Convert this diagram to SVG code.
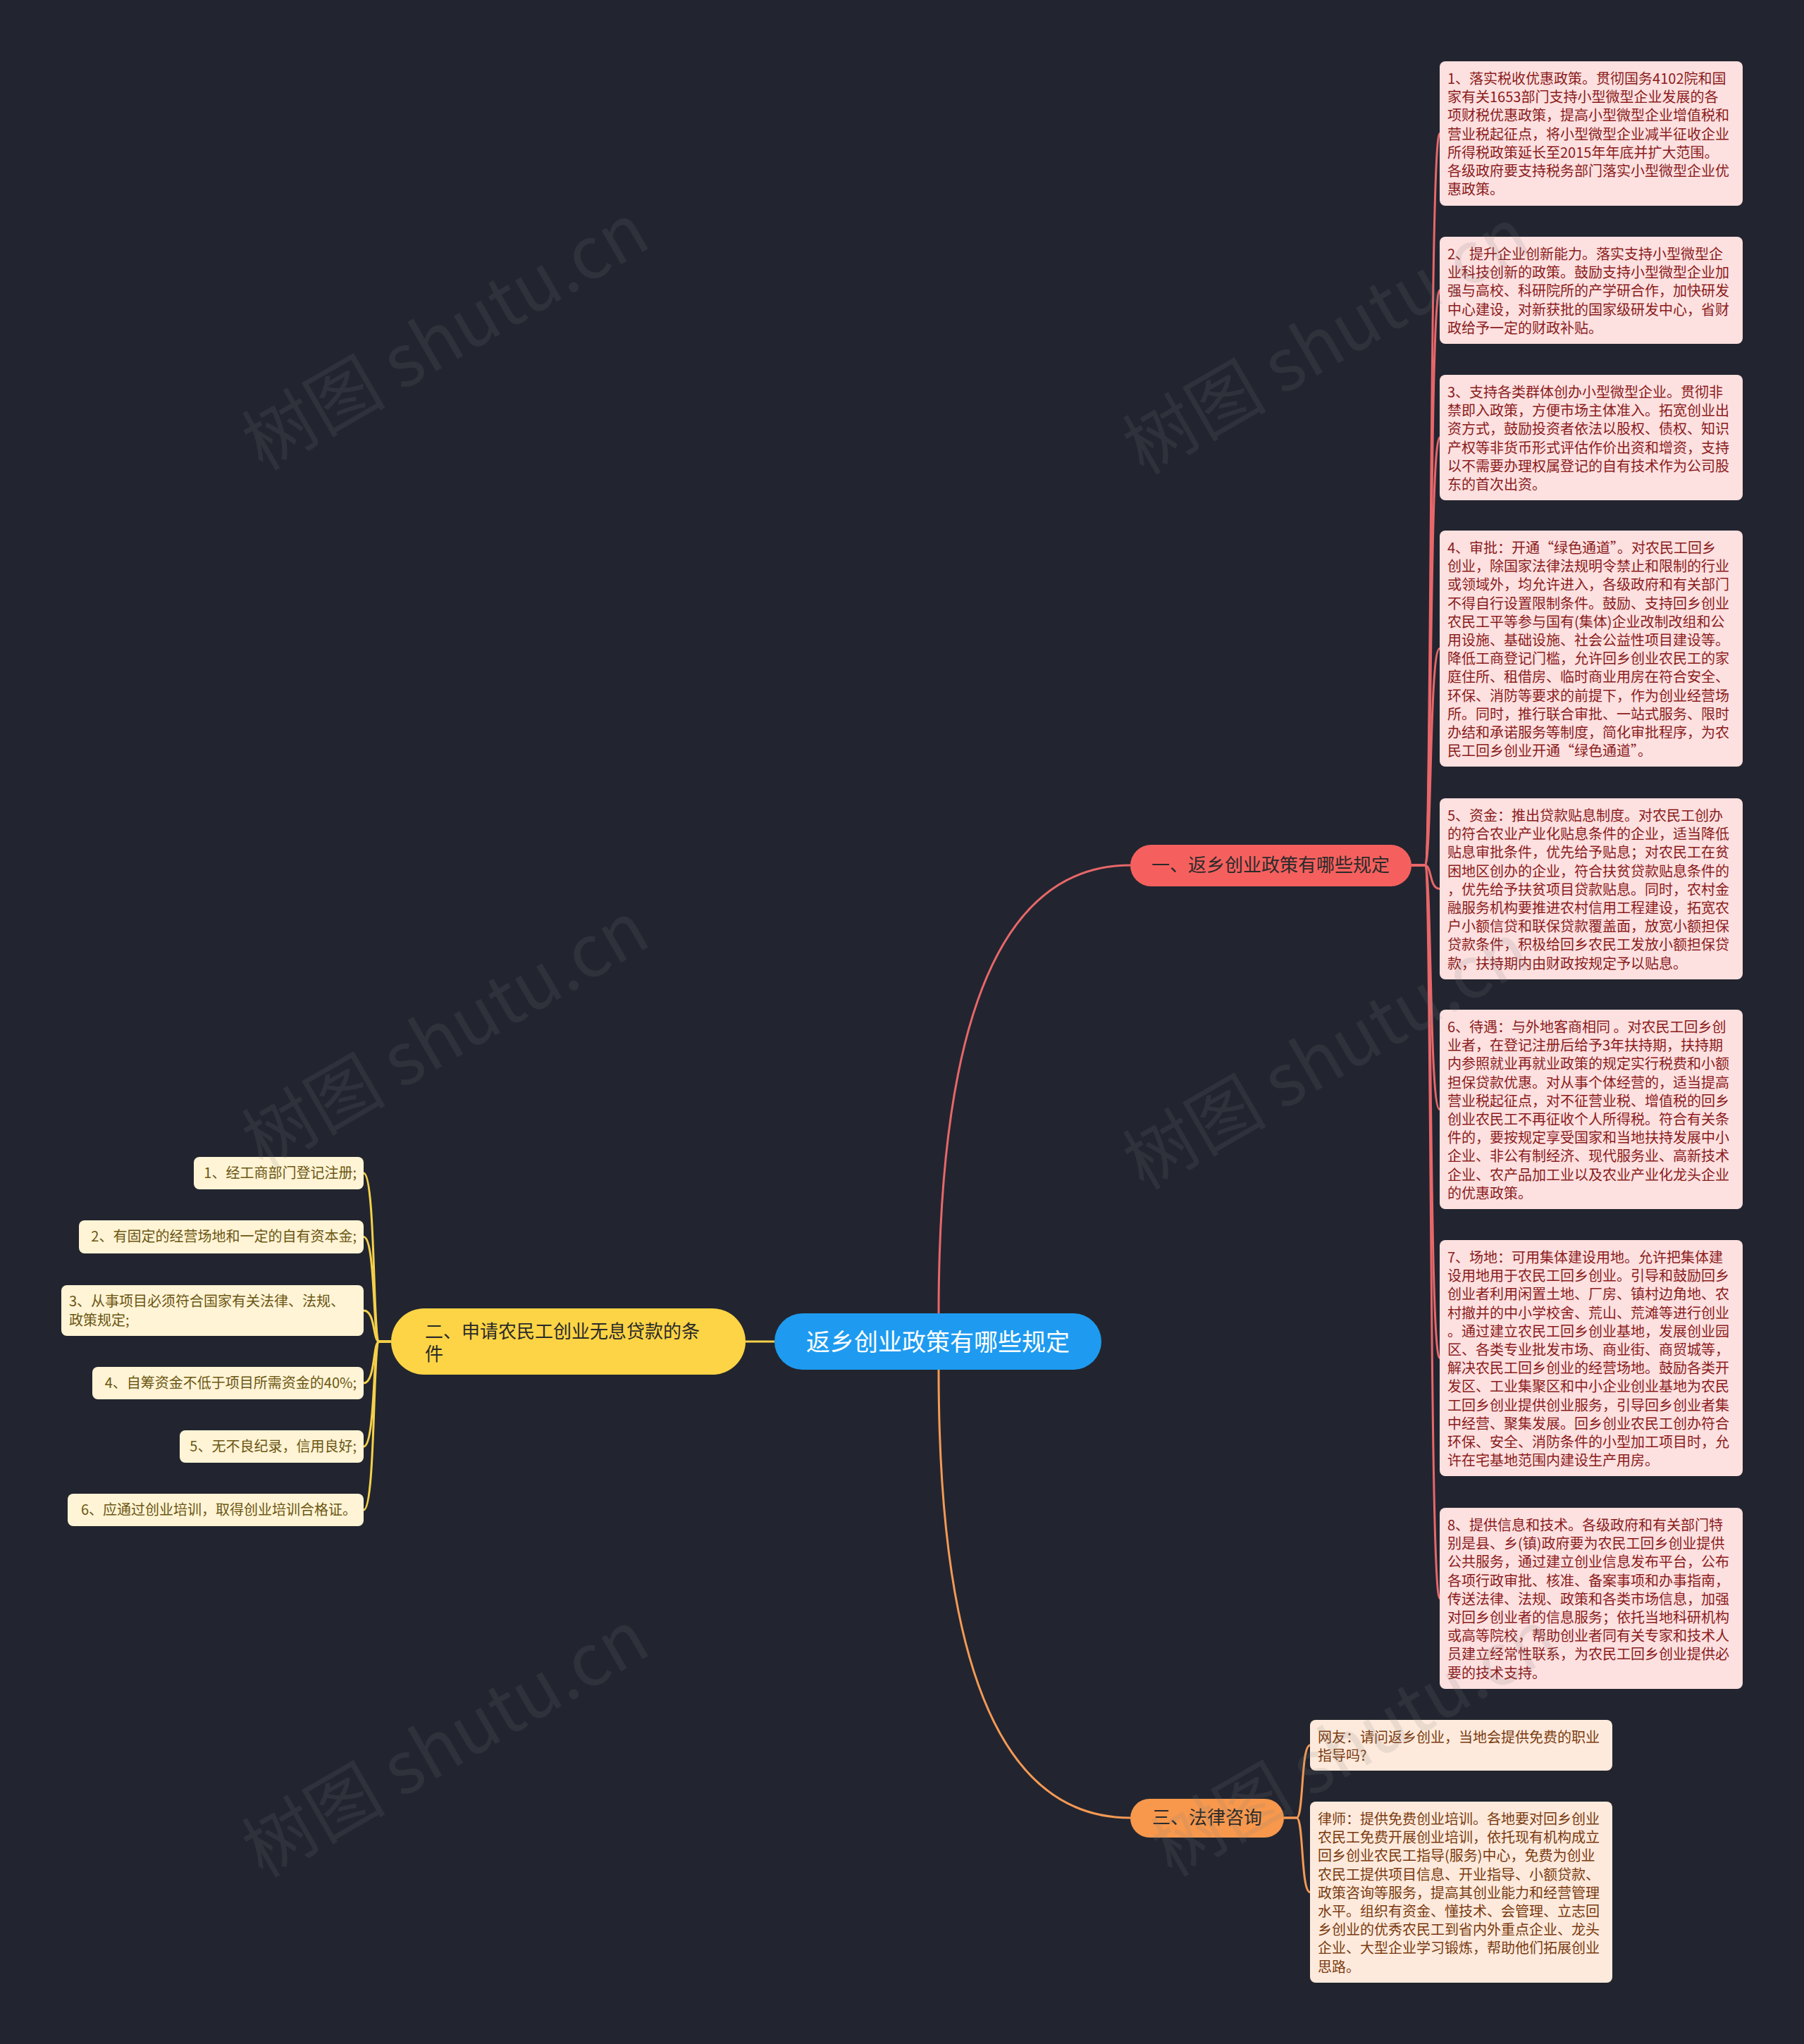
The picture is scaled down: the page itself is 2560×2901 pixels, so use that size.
<svg xmlns="http://www.w3.org/2000/svg" width="2560" height="2901" viewBox="0 0 2560 2901">
<style>
text{font-family:"Noto Sans CJK SC","Noto Sans",sans-serif}
.wm{font-size:102px;fill:#808080;fill-opacity:0.15}
.pk rect{fill:#fde0e0}
.pk text{font-size:20px;fill:#8a1c1c}
.qa rect{fill:#fdeadc}
.qa text{font-size:20px;fill:#7a3a10}
.ye rect{fill:#fff4d5}
.ye text{font-size:20px;fill:#6b5614}
.lr{fill:none;stroke:#e8676a;stroke-width:3}
.lo{fill:none;stroke:#f59a55;stroke-width:3}
.ly{fill:none;stroke:#f5d04a;stroke-width:3}
</style>
<rect width="2560" height="2901" fill="#22252f"/>
<g id="connectors">
<path class="lr" d="M1332 1866 Q1332 1228 1604 1228"/>
<path class="lo" d="M1332 1944 Q1332 2580 1604 2580"/>
<path class="ly" d="M1058 1904 H1099"/>
<path class="lr" d="M2003 1228 H2022 C2032 1228 2028 189.5 2043 189.5"/>
<path class="lr" d="M2003 1228 H2022 C2032 1228 2028 412 2043 412"/>
<path class="lr" d="M2003 1228 H2022 C2032 1228 2028 621 2043 621"/>
<path class="lr" d="M2003 1228 H2022 C2032 1228 2028 920.5 2043 920.5"/>
<path class="lr" d="M2003 1228 H2022 C2032 1228 2028 1261.5 2043 1261.5"/>
<path class="lr" d="M2003 1228 H2022 C2032 1228 2028 1574.5 2043 1574.5"/>
<path class="lr" d="M2003 1228 H2022 C2032 1228 2028 1927.5 2043 1927.5"/>
<path class="lr" d="M2003 1228 H2022 C2032 1228 2028 2268.5 2043 2268.5"/>
<path class="lo" d="M1822 2580 H1840 C1850 2580 1846 2477 1859 2477"/>
<path class="lo" d="M1822 2580 H1840 C1850 2580 1846 2685.5 1859 2685.5"/>
<path class="ly" d="M555 1904 H538 C529 1904 533 1665 516 1665"/>
<path class="ly" d="M555 1904 H538 C529 1904 533 1755.5 516 1755.5"/>
<path class="ly" d="M555 1904 H538 C529 1904 533 1860 516 1860"/>
<path class="ly" d="M555 1904 H538 C529 1904 533 1963 516 1963"/>
<path class="ly" d="M555 1904 H538 C529 1904 533 2053 516 2053"/>
<path class="ly" d="M555 1904 H538 C529 1904 533 2143 516 2143"/>
</g>
<g id="root">
<rect x="1099" y="1864" width="464" height="80" rx="40" fill="#1e9bf0"/>
<text x="1331" y="1917" font-size="34" fill="#ffffff" text-anchor="middle">返乡创业政策有哪些规定</text>
</g>
<g id="branch1">
<rect x="1604" y="1199" width="399" height="59" rx="29.5" fill="#f5605e"/>
<text x="1803" y="1237" font-size="26" fill="#2a2a2a" text-anchor="middle">一、返乡创业政策有哪些规定</text>
</g>
<g id="branch2">
<rect x="555" y="1857" width="503" height="94" rx="47" fill="#fdd445"/>
<text font-size="26" fill="#2a2a2a"><tspan x="603" y="1899">二、申请农民工创业无息贷款的条</tspan><tspan x="603" y="1931">件</tspan></text>
</g>
<g id="branch3">
<rect x="1604" y="2553" width="218" height="55" rx="27.5" fill="#f7984d"/>
<text x="1713" y="2589" font-size="26" fill="#2a2a2a" text-anchor="middle">三、法律咨询</text>
</g>
<g id="p1" class="pk">
<rect x="2043" y="87" width="430" height="205" rx="8"/>
<text><tspan x="2054" y="119">1、落实税收优惠政策。贯彻国务4102院和国</tspan><tspan x="2054" dy="26.2">家有关1653部门支持小型微型企业发展的各</tspan><tspan x="2054" dy="26.2">项财税优惠政策，提高小型微型企业增值税和</tspan><tspan x="2054" dy="26.2">营业税起征点，将小型微型企业减半征收企业</tspan><tspan x="2054" dy="26.2">所得税政策延长至2015年年底并扩大范围。</tspan><tspan x="2054" dy="26.2">各级政府要支持税务部门落实小型微型企业优</tspan><tspan x="2054" dy="26.2">惠政策。</tspan></text>
</g>
<g id="p2" class="pk">
<rect x="2043" y="336" width="430" height="152" rx="8"/>
<text><tspan x="2054" y="368">2、提升企业创新能力。落实支持小型微型企</tspan><tspan x="2054" dy="26.2">业科技创新的政策。鼓励支持小型微型企业加</tspan><tspan x="2054" dy="26.2">强与高校、科研院所的产学研合作，加快研发</tspan><tspan x="2054" dy="26.2">中心建设，对新获批的国家级研发中心，省财</tspan><tspan x="2054" dy="26.2">政给予一定的财政补贴。</tspan></text>
</g>
<g id="p3" class="pk">
<rect x="2043" y="532" width="430" height="178" rx="8"/>
<text><tspan x="2054" y="564">3、支持各类群体创办小型微型企业。贯彻非</tspan><tspan x="2054" dy="26.2">禁即入政策，方便市场主体准入。拓宽创业出</tspan><tspan x="2054" dy="26.2">资方式，鼓励投资者依法以股权、债权、知识</tspan><tspan x="2054" dy="26.2">产权等非货币形式评估作价出资和增资，支持</tspan><tspan x="2054" dy="26.2">以不需要办理权属登记的自有技术作为公司股</tspan><tspan x="2054" dy="26.2">东的首次出资。</tspan></text>
</g>
<g id="p4" class="pk">
<rect x="2043" y="753" width="430" height="335" rx="8"/>
<text><tspan x="2054" y="785">4、审批：开通“绿色通道”。对农民工回乡</tspan><tspan x="2054" dy="26.2">创业，除国家法律法规明令禁止和限制的行业</tspan><tspan x="2054" dy="26.2">或领域外，均允许进入，各级政府和有关部门</tspan><tspan x="2054" dy="26.2">不得自行设置限制条件。鼓励、支持回乡创业</tspan><tspan x="2054" dy="26.2">农民工平等参与国有(集体)企业改制改组和公</tspan><tspan x="2054" dy="26.2">用设施、基础设施、社会公益性项目建设等。</tspan><tspan x="2054" dy="26.2">降低工商登记门槛，允许回乡创业农民工的家</tspan><tspan x="2054" dy="26.2">庭住所、租借房、临时商业用房在符合安全、</tspan><tspan x="2054" dy="26.2">环保、消防等要求的前提下，作为创业经营场</tspan><tspan x="2054" dy="26.2">所。同时，推行联合审批、一站式服务、限时</tspan><tspan x="2054" dy="26.2">办结和承诺服务等制度，简化审批程序，为农</tspan><tspan x="2054" dy="26.2">民工回乡创业开通“绿色通道”。</tspan></text>
</g>
<g id="p5" class="pk">
<rect x="2043" y="1133" width="430" height="257" rx="8"/>
<text><tspan x="2054" y="1165">5、资金：推出贷款贴息制度。对农民工创办</tspan><tspan x="2054" dy="26.2">的符合农业产业化贴息条件的企业，适当降低</tspan><tspan x="2054" dy="26.2">贴息审批条件，优先给予贴息；对农民工在贫</tspan><tspan x="2054" dy="26.2">困地区创办的企业，符合扶贫贷款贴息条件的</tspan><tspan x="2054" dy="26.2">，优先给予扶贫项目贷款贴息。同时，农村金</tspan><tspan x="2054" dy="26.2">融服务机构要推进农村信用工程建设，拓宽农</tspan><tspan x="2054" dy="26.2">户小额信贷和联保贷款覆盖面，放宽小额担保</tspan><tspan x="2054" dy="26.2">贷款条件，积极给回乡农民工发放小额担保贷</tspan><tspan x="2054" dy="26.2">款，扶持期内由财政按规定予以贴息。</tspan></text>
</g>
<g id="p6" class="pk">
<rect x="2043" y="1433" width="430" height="283" rx="8"/>
<text><tspan x="2054" y="1465">6、待遇：与外地客商相同 。对农民工回乡创</tspan><tspan x="2054" dy="26.2">业者，在登记注册后给予3年扶持期，扶持期</tspan><tspan x="2054" dy="26.2">内参照就业再就业政策的规定实行税费和小额</tspan><tspan x="2054" dy="26.2">担保贷款优惠。对从事个体经营的，适当提高</tspan><tspan x="2054" dy="26.2">营业税起征点，对不征营业税、增值税的回乡</tspan><tspan x="2054" dy="26.2">创业农民工不再征收个人所得税。符合有关条</tspan><tspan x="2054" dy="26.2">件的，要按规定享受国家和当地扶持发展中小</tspan><tspan x="2054" dy="26.2">企业、非公有制经济、现代服务业、高新技术</tspan><tspan x="2054" dy="26.2">企业、农产品加工业以及农业产业化龙头企业</tspan><tspan x="2054" dy="26.2">的优惠政策。</tspan></text>
</g>
<g id="p7" class="pk">
<rect x="2043" y="1760" width="430" height="335" rx="8"/>
<text><tspan x="2054" y="1792">7、场地：可用集体建设用地。允许把集体建</tspan><tspan x="2054" dy="26.2">设用地用于农民工回乡创业。引导和鼓励回乡</tspan><tspan x="2054" dy="26.2">创业者利用闲置土地、厂房、镇村边角地、农</tspan><tspan x="2054" dy="26.2">村撤并的中小学校舍、荒山、荒滩等进行创业</tspan><tspan x="2054" dy="26.2">。通过建立农民工回乡创业基地，发展创业园</tspan><tspan x="2054" dy="26.2">区、各类专业批发市场、商业街、商贸城等，</tspan><tspan x="2054" dy="26.2">解决农民工回乡创业的经营场地。鼓励各类开</tspan><tspan x="2054" dy="26.2">发区、工业集聚区和中小企业创业基地为农民</tspan><tspan x="2054" dy="26.2">工回乡创业提供创业服务，引导回乡创业者集</tspan><tspan x="2054" dy="26.2">中经营、聚集发展。回乡创业农民工创办符合</tspan><tspan x="2054" dy="26.2">环保、安全、消防条件的小型加工项目时，允</tspan><tspan x="2054" dy="26.2">许在宅基地范围内建设生产用房。</tspan></text>
</g>
<g id="p8" class="pk">
<rect x="2043" y="2140" width="430" height="257" rx="8"/>
<text><tspan x="2054" y="2172">8、提供信息和技术。各级政府和有关部门特</tspan><tspan x="2054" dy="26.2">别是县、乡(镇)政府要为农民工回乡创业提供</tspan><tspan x="2054" dy="26.2">公共服务，通过建立创业信息发布平台，公布</tspan><tspan x="2054" dy="26.2">各项行政审批、核准、备案事项和办事指南，</tspan><tspan x="2054" dy="26.2">传送法律、法规、政策和各类市场信息，加强</tspan><tspan x="2054" dy="26.2">对回乡创业者的信息服务；依托当地科研机构</tspan><tspan x="2054" dy="26.2">或高等院校，帮助创业者同有关专家和技术人</tspan><tspan x="2054" dy="26.2">员建立经常性联系，为农民工回乡创业提供必</tspan><tspan x="2054" dy="26.2">要的技术支持。</tspan></text>
</g>
<g id="q1" class="qa">
<rect x="1859" y="2441" width="429" height="72" rx="8"/>
<text><tspan x="1870" y="2473">网友：请问返乡创业，当地会提供免费的职业</tspan><tspan x="1870" dy="26.2">指导吗?</tspan></text>
</g>
<g id="q2" class="qa">
<rect x="1859" y="2557" width="429" height="257" rx="8"/>
<text><tspan x="1870" y="2589">律师：提供免费创业培训。各地要对回乡创业</tspan><tspan x="1870" dy="26.2">农民工免费开展创业培训，依托现有机构成立</tspan><tspan x="1870" dy="26.2">回乡创业农民工指导(服务)中心，免费为创业</tspan><tspan x="1870" dy="26.2">农民工提供项目信息、开业指导、小额贷款、</tspan><tspan x="1870" dy="26.2">政策咨询等服务，提高其创业能力和经营管理</tspan><tspan x="1870" dy="26.2">水平。组织有资金、懂技术、会管理、立志回</tspan><tspan x="1870" dy="26.2">乡创业的优秀农民工到省内外重点企业、龙头</tspan><tspan x="1870" dy="26.2">企业、大型企业学习锻炼，帮助他们拓展创业</tspan><tspan x="1870" dy="26.2">思路。</tspan></text>
</g>
<g id="c1" class="ye">
<rect x="275" y="1642" width="241" height="46" rx="8"/>
<text x="506" y="1672" text-anchor="end">1、经工商部门登记注册;</text>
</g>
<g id="c2" class="ye">
<rect x="112" y="1732" width="404" height="47" rx="8"/>
<text x="506" y="1762" text-anchor="end">2、有固定的经营场地和一定的自有资本金;</text>
</g>
<g id="c3" class="ye">
<rect x="87" y="1824" width="429" height="72" rx="8"/>
<text><tspan x="98" y="1854">3、从事项目必须符合国家有关法律、法规、</tspan><tspan x="98" dy="27">政策规定;</tspan></text>
</g>
<g id="c4" class="ye">
<rect x="131" y="1940" width="385" height="46" rx="8"/>
<text x="506" y="1970" text-anchor="end">4、自筹资金不低于项目所需资金的40%;</text>
</g>
<g id="c5" class="ye">
<rect x="255" y="2030" width="261" height="46" rx="8"/>
<text x="506" y="2060" text-anchor="end">5、无不良纪录，信用良好;</text>
</g>
<g id="c6" class="ye">
<rect x="96" y="2120" width="420" height="46" rx="8"/>
<text x="506" y="2150" text-anchor="end">6、应通过创业培训，取得创业培训合格证。</text>
</g>
<g id="watermarks">
<text class="wm" transform="translate(650,509) rotate(-30)" text-anchor="middle">树图 shutu.cn</text>
<text class="wm" transform="translate(1900,515) rotate(-30)" text-anchor="middle">树图 shutu.cn</text>
<text class="wm" transform="translate(650,1500) rotate(-30)" text-anchor="middle">树图 shutu.cn</text>
<text class="wm" transform="translate(1900,1530) rotate(-30)" text-anchor="middle">树图 shutu.cn</text>
<text class="wm" transform="translate(650,2506) rotate(-30)" text-anchor="middle">树图 shutu.cn</text>
<text class="wm" transform="translate(1940,2505) rotate(-30)" text-anchor="middle">树图 shutu.cn</text>
</g>
</svg>
